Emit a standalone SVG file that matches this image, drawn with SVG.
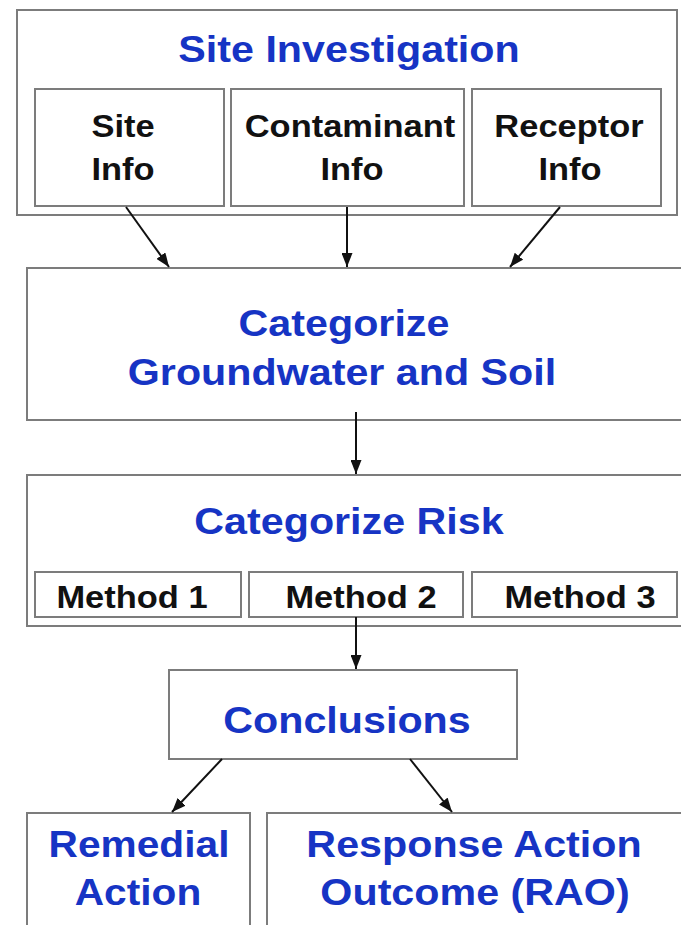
<svg xmlns="http://www.w3.org/2000/svg" width="681" height="925" viewBox="0 0 681 925">
<style>
.box{fill:#fff;stroke:#7c7c7c;stroke-width:2}
.t{font-family:"Liberation Sans",Arial,sans-serif;font-weight:bold;text-anchor:middle}
.blue{fill:#1634c4;font-size:36.5px}
.blk{fill:#111;font-size:30.5px}
.con{stroke:#111;stroke-width:2;fill:none;marker-end:url(#ah)}
</style>
<defs>
<marker id="ah" viewBox="0 0 14 11" refX="14" refY="5.5" markerWidth="14" markerHeight="11" markerUnits="userSpaceOnUse" orient="auto">
<path d="M0,0 L14,5.5 L0,11 Z" fill="#111"/>
</marker>
</defs>
<rect width="681" height="925" fill="#fff"/>
<g id="site-investigation">
<rect class="box" x="17" y="10" width="660" height="205"/>
<text class="t blue" transform="translate(349,62) scale(1.13,1)">Site Investigation</text>
</g>
<g id="site-info">
<rect class="box" x="35" y="89" width="189" height="117"/>
<text class="t blk" transform="translate(123,137) scale(1.13,1)">Site</text>
<text class="t blk" transform="translate(123,180) scale(1.13,1)">Info</text>
</g>
<g id="contaminant-info">
<rect class="box" x="231" y="89" width="233" height="117"/>
<text class="t blk" transform="translate(350,137) scale(1.13,1)">Contaminant</text>
<text class="t blk" transform="translate(352,180) scale(1.13,1)">Info</text>
</g>
<g id="receptor-info">
<rect class="box" x="472" y="89" width="189" height="117"/>
<text class="t blk" transform="translate(569,137) scale(1.13,1)">Receptor</text>
<text class="t blk" transform="translate(570,180) scale(1.13,1)">Info</text>
</g>
<g id="categorize-gw">
<rect class="box" x="27" y="268" width="670" height="152"/>
<text class="t blue" transform="translate(344,336) scale(1.13,1)">Categorize</text>
<text class="t blue" transform="translate(342,385) scale(1.13,1)">Groundwater and Soil</text>
</g>
<g id="categorize-risk">
<rect class="box" x="27" y="475" width="670" height="151"/>
<text class="t blue" transform="translate(349,534) scale(1.13,1)">Categorize Risk</text>
</g>
<g id="method-1">
<rect class="box" x="35" y="572" width="206" height="45"/>
<text class="t blk" transform="translate(132,608) scale(1.13,1)">Method 1</text>
</g>
<g id="method-2">
<rect class="box" x="249" y="572" width="214" height="45"/>
<text class="t blk" transform="translate(361,608) scale(1.13,1)">Method 2</text>
</g>
<g id="method-3">
<rect class="box" x="472" y="572" width="205" height="45"/>
<text class="t blk" transform="translate(580,608) scale(1.13,1)">Method 3</text>
</g>
<g id="conclusions">
<rect class="box" x="169" y="670" width="348" height="89"/>
<text class="t blue" transform="translate(347,733) scale(1.13,1)">Conclusions</text>
</g>
<g id="remedial-action">
<rect class="box" x="27" y="813" width="223" height="130"/>
<text class="t blue" style="font-size:36px" transform="translate(139,857) scale(1.13,1)">Remedial</text>
<text class="t blue" style="font-size:36px" transform="translate(138,905) scale(1.13,1)">Action</text>
</g>
<g id="rao">
<rect class="box" x="267" y="813" width="430" height="130"/>
<text class="t blue" transform="translate(474,857) scale(1.13,1)">Response Action</text>
<text class="t blue" transform="translate(475,905) scale(1.13,1)">Outcome (RAO)</text>
</g>
<g id="connectors">
<line class="con" x1="126" y1="207" x2="169" y2="267"/>
<line class="con" x1="347" y1="207" x2="347" y2="267"/>
<line class="con" x1="560" y1="207" x2="510" y2="267"/>
<line class="con" x1="356" y1="412" x2="356" y2="474"/>
<line class="con" x1="356" y1="617" x2="356" y2="669"/>
<line class="con" x1="222" y1="759" x2="172" y2="812"/>
<line class="con" x1="410" y1="759" x2="452" y2="812"/>
</g>
</svg>
